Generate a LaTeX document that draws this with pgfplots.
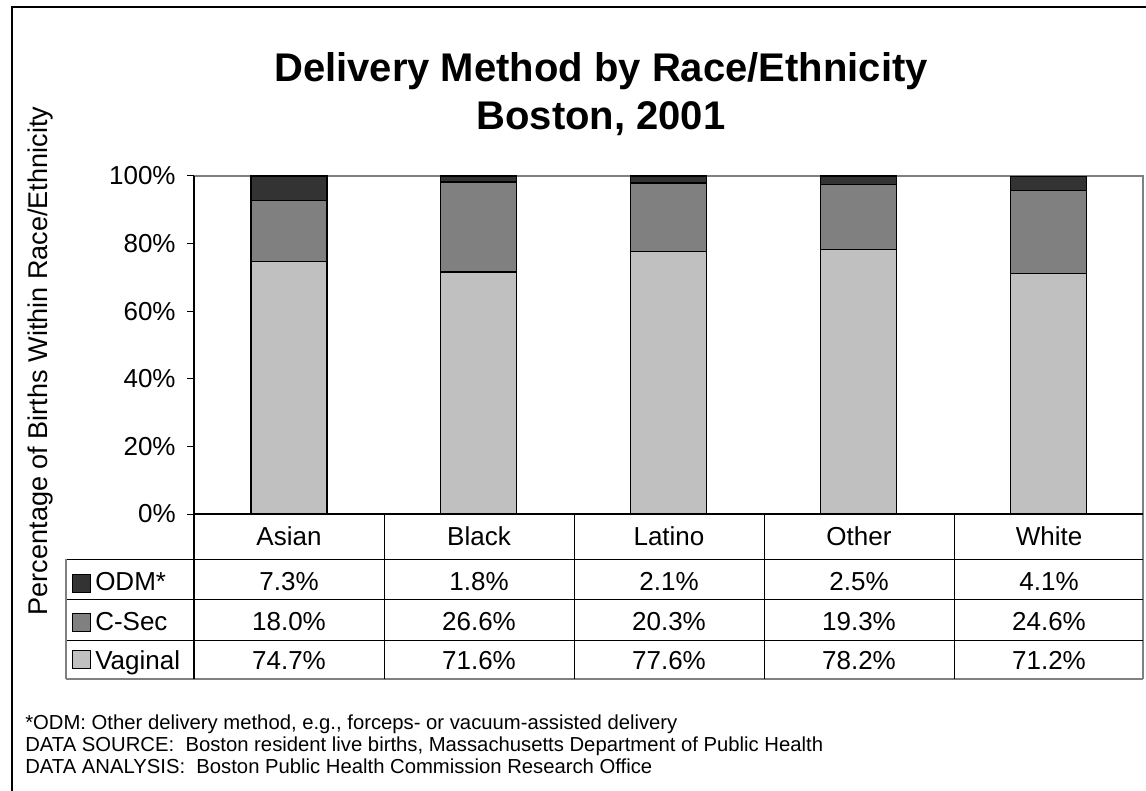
\documentclass[border=0pt]{standalone}
\usepackage{fontspec}
\setmainfont{Liberation Sans}
\usepackage{pgfplots}
\usepackage{pgfplotstable}
\pgfplotsset{compat=1.18}
\definecolor{cVag}{HTML}{C0C0C0}
\definecolor{cCS}{HTML}{808080}
\definecolor{cODM}{HTML}{333333}
\definecolor{frameg}{HTML}{808080}

\pgfplotstableread{
x cat Vaginal CSec ODM
0 Asian 74.7 18.0 7.3
1 Black 71.6 26.6 1.8
2 Latino 77.6 20.3 2.1
3 Other 78.2 19.3 2.5
4 White 71.2 24.6 4.1
}\datatable

\newcommand{\bigf}{\fontsize{19.5}{23}\selectfont}
\newcommand{\smallf}{\fontsize{15.2}{17}\selectfont}

\begin{document}
\begin{tikzpicture}
\begin{scope}[x=0.75pt,y=-0.75pt]
\useasboundingbox (0,0) rectangle (1146,791);
\draw[line width=1.5pt] (12,7) rectangle (1170,815);
% title
\node[anchor=base, inner sep=0pt, font=\fontsize{30}{33}\selectfont\bfseries] at (601,82) {Delivery Method by Race/Ethnicity};
\node[anchor=base, inner sep=0pt, font=\fontsize{30}{33}\selectfont\bfseries] at (601,130) {Boston, 2001};
% y label
\node[rotate=90, anchor=base, font=\fontsize{20.3}{24}\selectfont] at (47,361) {Percentage of Births Within Race/Ethnicity};
% plot frame top/right
\draw[frameg, line width=0.9pt] (194,176) -- (1143,176) -- (1143,679);
% table lines
\draw[black, line width=0.75pt] (66,559) -- (1143,559);
\draw[black, line width=0.75pt] (66,599) -- (1143,599);
\draw[black, line width=0.75pt] (66,640) -- (1143,640);
\draw[frameg, line width=0.9pt] (66,679) -- (1143,679);
\draw[frameg, line width=0.9pt] (66,559) -- (66,679);
\draw[black, line width=0.9pt] (194,514) -- (194,679);
\foreach \xx in {384,574,764,954} \draw[black, line width=0.75pt] (\xx,514) -- (\xx,679);
% legend column
\filldraw[fill=cODM, draw=black, line width=0.75pt] (72,574) rectangle (90,592);
\filldraw[fill=cCS, draw=black, line width=0.75pt] (72,613) rectangle (90,631);
\filldraw[fill=cVag, draw=black, line width=0.75pt] (72,650) rectangle (90,668);
\node[anchor=base west, inner sep=0pt, font=\bigf] at (95,590) {ODM*};
\node[anchor=base west, inner sep=0pt, font=\bigf] at (95,630.5) {C-Sec};
\node[anchor=base west, inner sep=0pt, font=\bigf] at (95,669) {Vaginal};
% table values
\foreach \i in {0,...,4} {
  \pgfplotstablegetelem{\i}{cat}\of\datatable
  \node[anchor=base, inner sep=0pt, font=\bigf] at ({289+190*\i},545) {\pgfplotsretval};
  \pgfplotstablegetelem{\i}{ODM}\of\datatable
  \node[anchor=base, inner sep=0pt, font=\bigf] at ({289+190*\i},590) {\pgfplotsretval\%};
  \pgfplotstablegetelem{\i}{CSec}\of\datatable
  \node[anchor=base, inner sep=0pt, font=\bigf] at ({289+190*\i},630.5) {\pgfplotsretval\%};
  \pgfplotstablegetelem{\i}{Vaginal}\of\datatable
  \node[anchor=base, inner sep=0pt, font=\bigf] at ({289+190*\i},669) {\pgfplotsretval\%};
}
% footnotes
\node[anchor=base west, inner sep=0pt, font=\smallf] at (25,729) {*ODM: Other delivery method, e.g., forceps- or vacuum-assisted delivery};
\node[anchor=base west, inner sep=0pt, font=\smallf] at (25,751) {DATA SOURCE:\ \ Boston resident live births, Massachusetts Department of Public Health};
\node[anchor=base west, inner sep=0pt, font=\smallf] at (25,773) {DATA ANALYSIS:\ \ Boston Public Health Commission Research Office};
\end{scope}
\begin{axis}[
  at={(145.5pt,-385.5pt)}, anchor=south west,
  scale only axis, width=711.75pt, height=253.5pt,
  xmin=-0.5, xmax=4.5, ymin=0, ymax=100,
  ybar stacked, bar width=57pt,
  axis lines*=left,
  axis line style={black, line width=0.9pt},
  xtick=\empty,
  ytick={0,20,40,60,80,100},
  yticklabels={0\%,20\%,40\%,60\%,80\%,100\%},
  tick align=outside,
  major tick length=5.25pt,
  y tick style={black, line width=0.75pt},
  yticklabel style={font=\bigf, xshift=-5pt},
  clip=false,
]
\addplot[fill=cVag, draw=black, line width=0.9pt] table[x=x,y=Vaginal]{\datatable};
\addplot[fill=cCS, draw=black, line width=0.9pt] table[x=x,y=CSec]{\datatable};
\addplot[fill=cODM, draw=black, line width=0.9pt] table[x=x,y=ODM]{\datatable};
\end{axis}
\end{tikzpicture}
\end{document}
